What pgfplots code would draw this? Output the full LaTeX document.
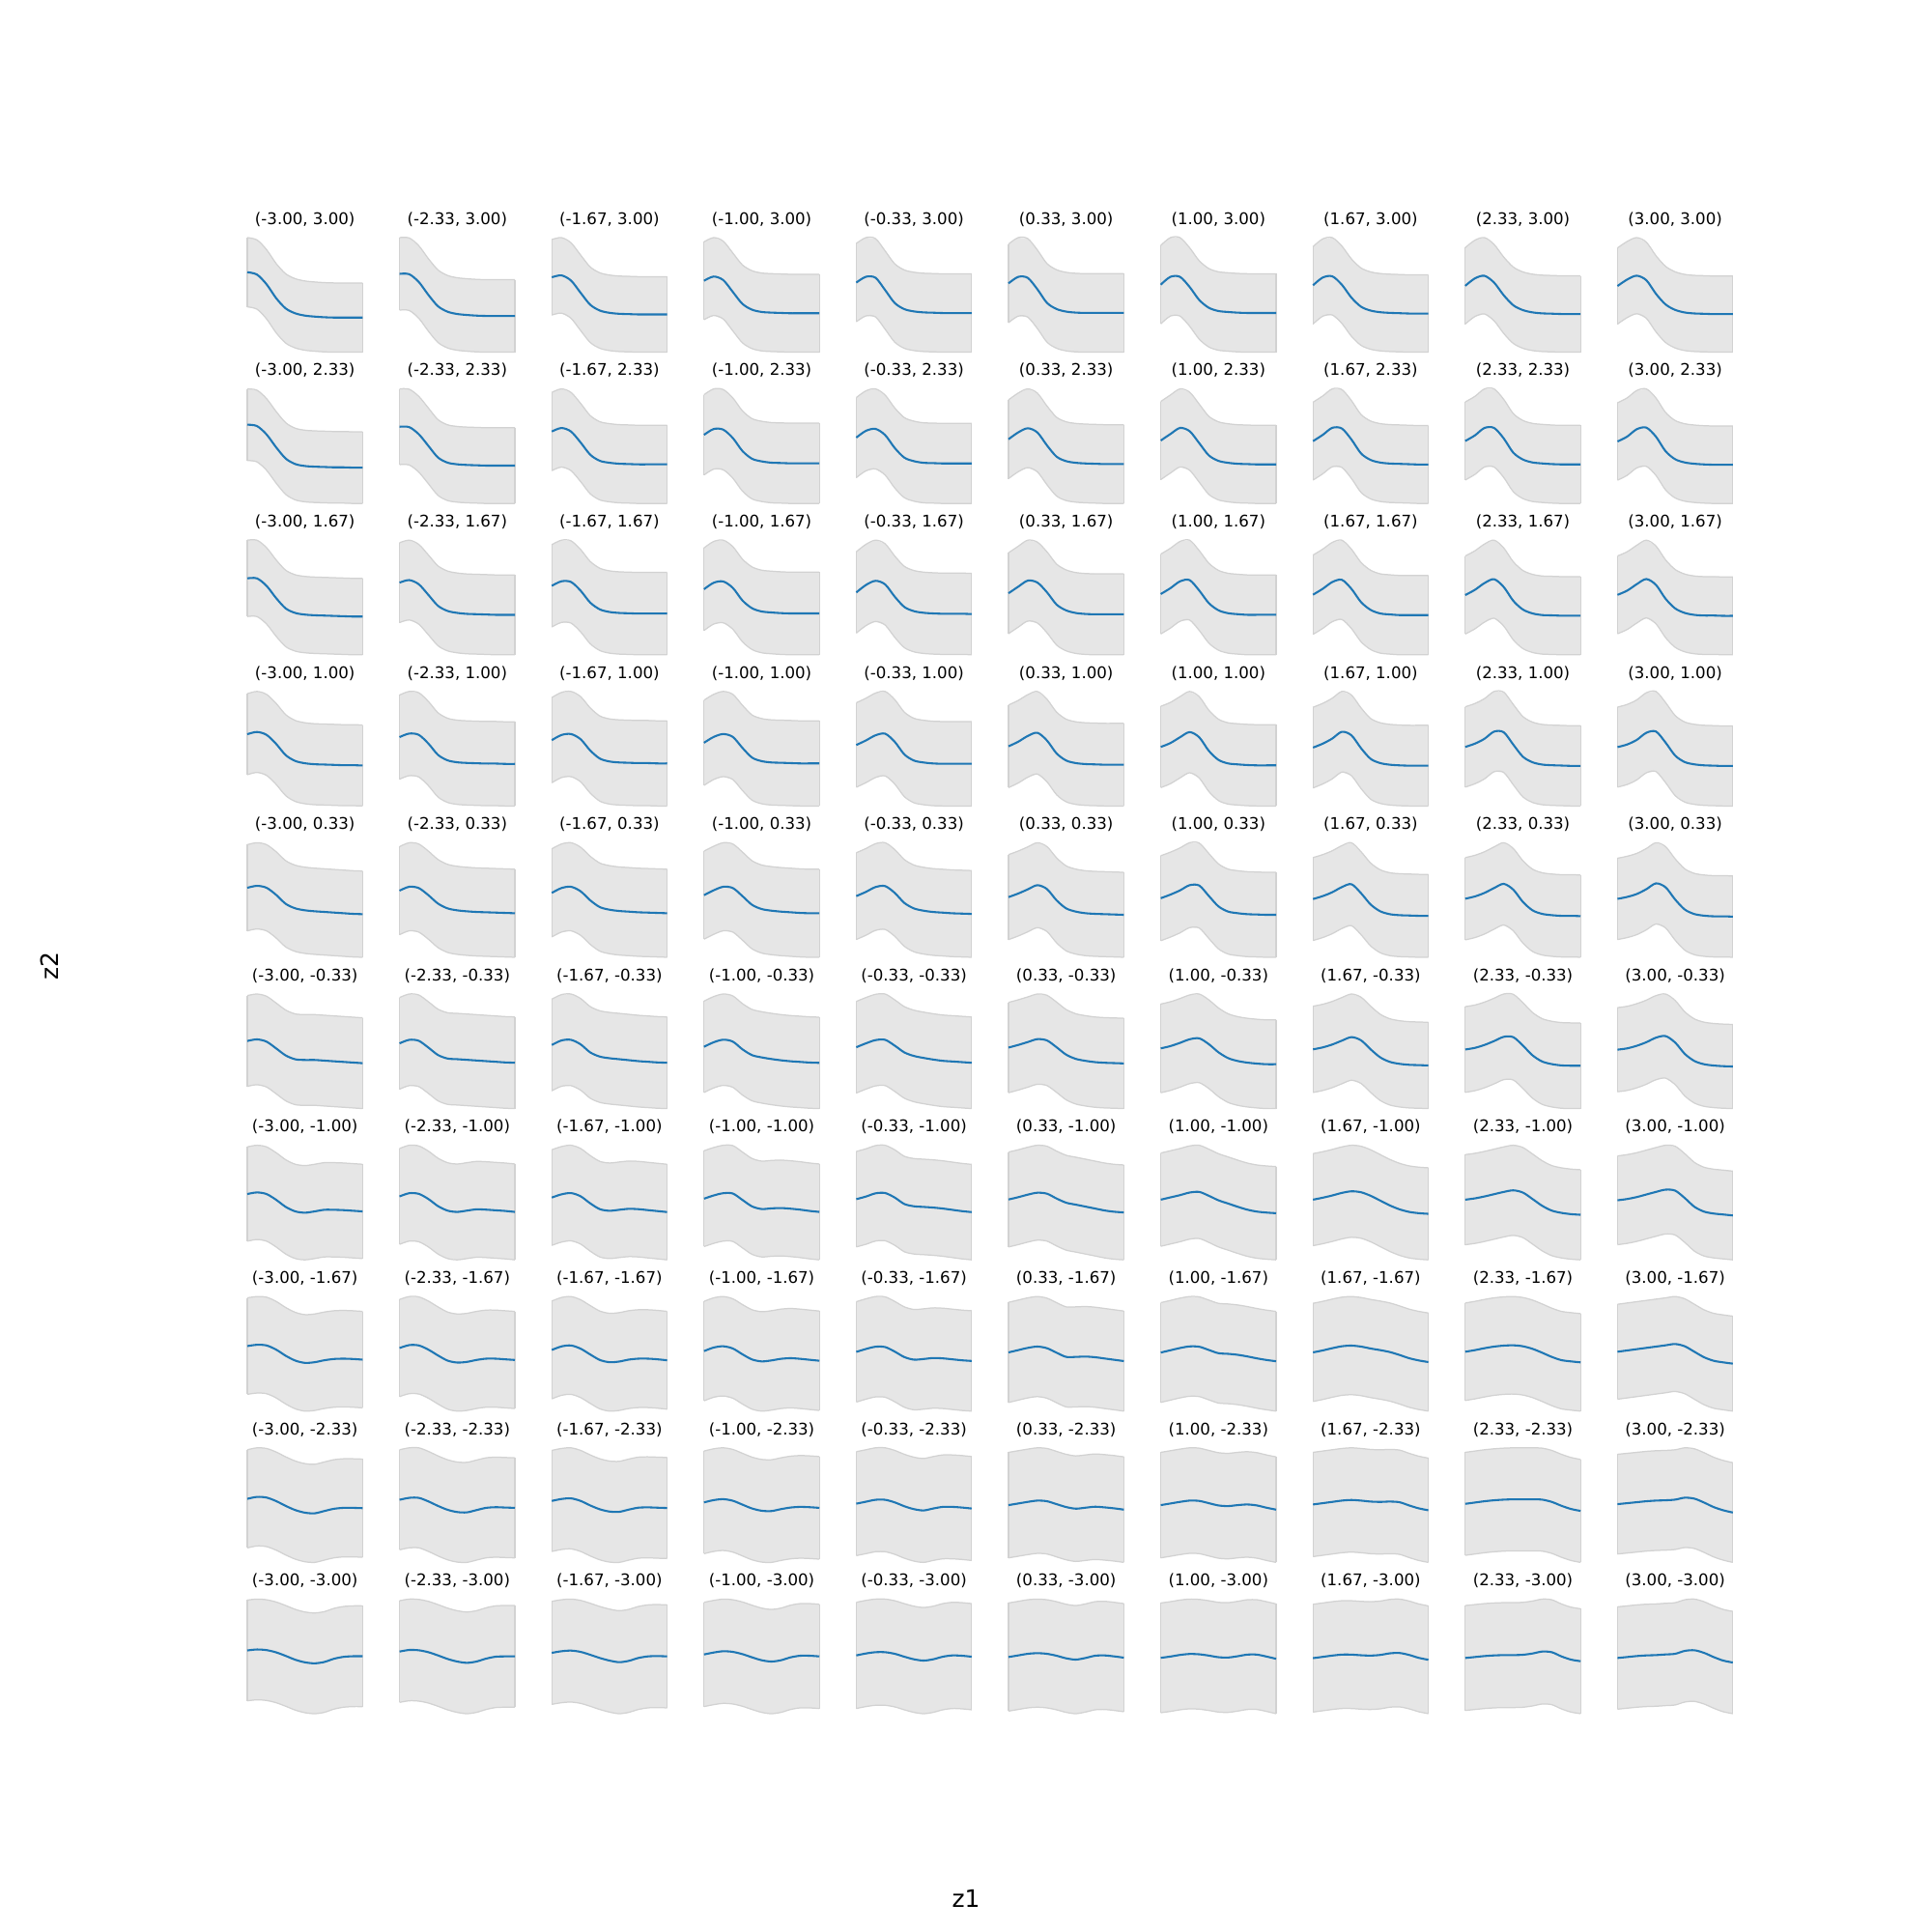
\documentclass[border=0pt]{standalone}
\usepackage{fontspec}
\setmainfont{DejaVu Sans}
\usepackage{pgfplots}
\pgfplotsset{compat=1.18}
\definecolor{mplblue}{HTML}{1F77B4}
\definecolor{bandfill}{HTML}{E6E6E6}
\definecolor{bandedge}{HTML}{D2D2D2}
\pgfplotsset{panel/.style={anchor=north west, scale only axis, width=1.194in, height=1.186in,
  xmin=0, xmax=12, enlargelimits=false, hide axis, clip=false,
  title style={at={(0.5,1)}, anchor=base, yshift=0.053in, font=\fontsize{12}{14}\selectfont}}}
\newcommand\drawband[1]{\addplot[fill=bandfill, draw=none] coordinates {#1};}
\newcommand\drawedge[1]{\addplot[bandedge, line width=0.9pt, smooth] coordinates {#1};}
\newcommand\drawcurve[1]{\addplot[mplblue, line width=1.5pt, smooth] coordinates {#1};}
% #1 column, #2 row, #3 title, #4 half width of the band, #5 mean values (13, at x = 0..12, read downward)
\newcommand{\panel}[5]{%
\gdef\pcurve{}\gdef\pup{}\gdef\plow{}%
\foreach \v [count=\i from 0] in {#5} {%
  \pgfmathsetmacro\vm{-\v}\pgfmathsetmacro\vu{-\v+#4}\pgfmathsetmacro\vl{-\v-#4}%
  \xdef\pcurve{\pcurve (\i,\vm)}\xdef\pup{\pup (\i,\vu)}\xdef\plow{(\i,\vl)\plow}%
  \ifnum\i=0 \xdef\uFirst{\vu}\xdef\lFirst{\vl}\fi
  \ifnum\i=12 \xdef\uLast{\vu}\xdef\lLast{\vl}\fi}%
\xdef\pfill{\pup\plow}%
\xdef\pleft{(0,\uFirst)(0,\lFirst)}%
\xdef\pright{(12,\uLast)(12,\lLast)}%
\begin{axis}[panel, at={(2.56in+#1*1.576in,17.54in-#2*1.566in)}, title={#3}]
\expandafter\drawband\expandafter{\pfill}
\expandafter\drawedge\expandafter{\pup}
\expandafter\drawedge\expandafter{\plow}
\expandafter\drawedge\expandafter{\pleft}
\expandafter\drawedge\expandafter{\pright}
\expandafter\drawcurve\expandafter{\pcurve}
\end{axis}}
\begin{document}
\begin{tikzpicture}
\path[use as bounding box] (0,0) rectangle (20in,20in);
% row z2 = 3.00
\panel{0}{0}{(-3.00, 3.00)}{107}{125,132,162,205,237,252,259,262,264,265,265,265,265}
\panel{1}{0}{(-2.33, 3.00)}{112}{130,131,155,195,230,247,254,257,259,260,260,260,260}
\panel{2}{0}{(-1.67, 3.00)}{117}{140,134,150,188,225,243,250,253,254,255,255,255,255}
\panel{3}{0}{(-1.00, 3.00)}{121}{150,137,148,185,222,240,247,249,250,251,251,251,251}
\panel{4}{0}{(-0.33, 3.00)}{121}{157,139,142,180,220,239,246,249,250,251,251,251,251}
\panel{5}{0}{(0.33, 3.00)}{121}{160,140,143,178,220,239,247,250,251,251,251,251,251}
\panel{6}{0}{(1.00, 3.00)}{120.5}{165,141,141,172,212,236,246,249,251,252,252,252,252}
\panel{7}{0}{(1.67, 3.00)}{119.5}{167,143,139,165,205,233,245,250,252,253,254,254,254}
\panel{8}{0}{(2.33, 3.00)}{118}{168,145,137,158,197,228,243,250,253,254,255,255,255}
\panel{9}{0}{(3.00, 3.00)}{118}{168,148,136,150,192,225,242,250,253,254,255,255,255}
% row z2 = 2.33
\panel{0}{1}{(-3.00, 2.33)}{111}{598,602,628,668,703,720,726,728,729,730,730,731,731}
\panel{1}{1}{(-2.33, 2.33)}{117}{605,606,628,664,700,716,721,723,724,725,725,725,725}
\panel{2}{1}{(-1.67, 2.33)}{121.5}{618,607,618,652,690,709,715,718,719,720,720,720,720}
\panel{3}{1}{(-1.00, 2.33)}{124}{630,612,614,640,680,704,712,716,717,718,718,718,718}
\panel{4}{1}{(-0.33, 2.33)}{124}{638,617,611,630,670,700,711,716,717,718,718,718,718}
\panel{5}{1}{(0.33, 2.33)}{122}{643,622,609,622,662,697,711,716,718,719,720,720,720}
\panel{6}{1}{(1.00, 2.33)}{121}{647,627,608,618,655,693,710,716,719,720,721,721,721}
\panel{7}{1}{(1.67, 2.33)}{120}{650,631,609,611,645,688,708,716,719,720,721,722,722}
\panel{8}{1}{(2.33, 2.33)}{120}{650,633,610,610,642,686,707,716,719,721,722,722,722}
\panel{9}{1}{(3.00, 2.33)}{120}{650,635,612,607,635,680,705,715,719,721,722,722,722}
% row z2 = 1.67
\panel{0}{2}{(-3.00, 1.67)}{118}{137,137,160,198,230,244,249,251,252,253,254,255,255}
\panel{1}{2}{(-2.33, 1.67)}{124}{150,142,155,188,222,238,244,247,248,249,250,250,250}
\panel{2}{2}{(-1.67, 1.67)}{127.5}{160,146,148,175,212,233,241,244,245,246,246,246,246}
\panel{3}{2}{(-1.00, 1.67)}{128}{170,150,146,166,205,229,239,242,244,245,245,245,245}
\panel{4}{2}{(-0.33, 1.67)}{126}{180,157,144,155,193,225,238,243,245,246,246,246,247}
\panel{5}{2}{(0.33, 1.67)}{125}{183,163,144,150,180,218,236,244,247,248,248,248,248}
\panel{6}{2}{(1.00, 1.67)}{123}{186,168,147,143,175,214,236,245,248,250,250,250,250}
\panel{7}{2}{(1.67, 1.67)}{122.5}{188,170,149,142,170,211,235,246,249,251,251,251,251}
\panel{8}{2}{(2.33, 1.67)}{121}{188,172,151,139,163,206,233,245,250,251,252,252,252}
\panel{9}{2}{(3.00, 1.67)}{120.5}{188,175,155,139,157,200,230,244,250,252,252,253,253}
% row z2 = 1.00
\panel{0}{3}{(-3.00, 1.00)}{125.5}{620,613,622,650,685,703,710,713,714,715,716,716,717}
\panel{1}{3}{(-2.33, 1.00)}{130.5}{630,619,623,650,685,702,708,710,711,712,712,713,713}
\panel{2}{3}{(-1.67, 1.00)}{132}{640,624,621,637,672,697,706,709,710,711,711,712,712}
\panel{3}{3}{(-1.00, 1.00)}{132}{648,630,621,630,664,694,705,709,710,711,712,712,712}
\panel{4}{3}{(-0.33, 1.00)}{130.5}{655,641,625,620,645,684,703,709,712,713,713,713,713}
\panel{5}{3}{(0.33, 1.00)}{128}{658,644,626,616,640,680,702,710,713,714,715,715,715}
\panel{6}{3}{(1.00, 1.00)}{126}{660,648,630,614,630,672,700,711,714,716,717,717,717}
\panel{7}{3}{(1.67, 1.00)}{125}{662,650,634,613,624,664,697,710,715,717,718,718,718}
\panel{8}{3}{(2.33, 1.00)}{123}{662,652,637,615,617,655,692,709,716,718,719,720,720}
\panel{9}{3}{(3.00, 1.00)}{123}{662,654,640,618,614,648,688,708,715,718,719,720,720}
% row z2 = 0.33
\panel{0}{4}{(-3.00, 0.33)}{134}{158,152,158,180,208,222,228,231,233,235,237,239,240}
\panel{1}{4}{(-2.33, 0.33)}{136.5}{168,156,160,182,208,223,229,232,234,235,236,237,238}
\panel{2}{4}{(-1.67, 0.33)}{136.5}{175,160,156,170,198,219,227,231,233,235,236,237,238}
\panel{3}{4}{(-1.00, 0.33)}{136.5}{182,167,156,160,185,212,225,230,233,235,237,238,238}
\panel{4}{4}{(-0.33, 0.33)}{134}{185,172,157,154,175,206,223,230,234,236,238,239,240}
\panel{5}{4}{(0.33, 0.33)}{132}{187,176,163,150,162,197,222,232,237,239,240,241,242}
\panel{6}{4}{(1.00, 0.33)}{130.5}{192,181,168,152,153,185,217,233,238,241,242,243,243}
\panel{7}{4}{(1.67, 0.33)}{128.5}{193,184,172,156,147,175,210,231,240,243,244,245,245}
\panel{8}{4}{(2.33, 0.33)}{127.5}{193,186,175,160,147,165,203,229,240,244,246,246,247}
\panel{9}{4}{(3.00, 0.33)}{126}{193,187,178,163,145,157,195,226,240,245,247,247,248}
% row z2 = -0.33
\panel{0}{5}{(-3.00, -0.33)}{141}{635,630,637,658,680,692,694,694,696,698,700,702,704}
\panel{1}{5}{(-2.33, -0.33)}{142}{642,631,634,655,678,689,691,693,695,697,699,701,702}
\panel{2}{5}{(-1.67, -0.33)}{142}{647,633,631,645,670,683,688,691,694,697,699,701,702}
\panel{3}{5}{(-1.00, -0.33)}{142}{652,638,630,636,660,678,685,690,694,697,699,701,702}
\panel{4}{5}{(-0.33, -0.33)}{141.5}{655,643,633,632,650,671,682,688,693,697,699,701,703}
\panel{5}{5}{(0.33, -0.33)}{139.5}{656,648,639,630,634,655,678,691,697,701,703,704,705}
\panel{6}{5}{(1.00, -0.33)}{137}{658,651,641,630,627,645,670,688,697,702,705,707,707}
\panel{7}{5}{(1.67, -0.33)}{134}{660,654,645,633,622,632,660,685,699,705,708,709,710}
\panel{8}{5}{(2.33, -0.33)}{132}{662,657,648,636,623,624,650,680,699,707,711,712,712}
\panel{9}{5}{(3.00, -0.33)}{130}{662,658,650,639,625,620,640,675,697,707,711,713,714}
% row z2 = -1.00
\panel{0}{6}{(-3.00, -1.00)}{146.5}{170,165,170,188,210,224,228,224,219,219,220,222,224}
\panel{1}{6}{(-2.33, -1.00)}{148.5}{178,168,170,186,208,222,226,222,218,219,221,223,226}
\panel{2}{6}{(-1.67, -1.00)}{148.5}{182,172,168,178,200,218,223,220,217,218,221,224,227}
\panel{3}{6}{(-1.00, -1.00)}{148.5}{186,176,169,170,190,210,218,216,215,217,220,224,227}
\panel{4}{6}{(-0.33, -1.00)}{147.5}{188,180,170,169,183,203,210,212,214,217,221,225,228}
\panel{5}{6}{(0.33, -1.00)}{147}{188,181,173,167,170,185,198,204,210,216,222,226,228}
\panel{6}{6}{(1.00, -1.00)}{144.5}{188,181,174,166,164,176,190,200,210,219,225,228,230}
\panel{7}{6}{(1.67, -1.00)}{143}{188,182,175,167,162,165,176,191,206,218,226,230,232}
\panel{8}{6}{(2.33, -1.00)}{140}{188,184,178,171,164,159,166,186,207,222,229,233,235}
\panel{9}{6}{(3.00, -1.00)}{137.5}{190,186,180,172,164,157,160,183,210,225,231,234,237}
% row z2 = -1.67
\panel{0}{7}{(-3.00, -1.67)}{149.5}{643,639,641,654,673,688,695,693,687,683,682,683,685}
\panel{1}{7}{(-2.33, -1.67)}{150.5}{648,639,640,653,671,687,693,691,685,681,681,683,685}
\panel{2}{7}{(-1.67, -1.67)}{152}{654,643,640,650,668,685,692,690,684,681,681,683,686}
\panel{3}{7}{(-1.00, -1.67)}{154.5}{658,647,643,650,668,684,690,687,682,680,682,685,688}
\panel{4}{7}{(-0.33, -1.67)}{155.5}{662,653,646,647,661,678,686,684,681,682,685,688,690}
\panel{5}{7}{(0.33, -1.67)}{155.5}{663,656,649,645,650,664,677,677,676,678,682,686,690}
\panel{6}{7}{(1.00, -1.67)}{154.5}{663,656,649,644,645,655,665,667,670,675,681,686,690}
\panel{7}{7}{(1.67, -1.67)}{152.5}{662,656,649,643,641,644,650,655,661,670,680,687,692}
\panel{8}{7}{(2.33, -1.67)}{151.5}{660,655,649,644,641,640,643,651,663,676,686,690,693}
\panel{9}{7}{(3.00, -1.67)}{147.5}{660,656,652,648,644,640,636,643,660,677,688,693,697}
% row z2 = -2.33
\panel{0}{8}{(-3.00, -2.33)}{152.5}{178,172,174,185,200,213,221,223,216,209,206,206,207}
\panel{1}{8}{(-2.33, -2.33)}{155}{182,176,176,187,201,213,220,221,214,207,205,206,207}
\panel{2}{8}{(-1.67, -2.33)}{157}{185,179,177,185,199,211,218,219,212,206,205,206,207}
\panel{3}{8}{(-1.00, -2.33)}{159.5}{190,183,180,185,197,209,216,217,211,206,204,205,207}
\panel{4}{8}{(-0.33, -2.33)}{161}{194,188,182,182,190,202,211,215,209,204,204,206,209}
\panel{5}{8}{(0.33, -2.33)}{163.5}{198,193,188,184,186,195,204,209,206,203,205,208,212}
\panel{6}{8}{(1.00, -2.33)}{163.5}{198,193,188,184,185,192,199,201,198,196,199,206,212}
\panel{7}{8}{(1.67, -2.33)}{162}{196,192,188,184,182,184,187,188,187,189,199,208,214}
\panel{8}{8}{(2.33, -2.33)}{160}{194,190,186,183,181,180,180,180,181,188,200,210,216}
\panel{9}{8}{(3.00, -2.33)}{154.5}{196,193,190,187,185,184,182,176,179,191,205,215,222}
% row z2 = -3.00
\panel{0}{9}{(-3.00, -3.00)}{156.5}{650,647,649,656,667,679,687,690,686,676,670,668,668}
\panel{1}{9}{(-2.33, -3.00)}{158}{653,648,649,655,665,676,684,688,684,675,669,668,668}
\panel{2}{9}{(-1.67, -3.00)}{160}{657,652,650,654,663,673,681,686,682,673,668,667,668}
\panel{3}{9}{(-1.00, -3.00)}{162}{662,656,652,654,661,671,680,684,680,671,666,666,668}
\panel{4}{9}{(-0.33, -3.00)}{164.5}{665,659,655,655,660,669,677,681,677,669,665,666,669}
\panel{5}{9}{(0.33, -3.00)}{168}{670,665,660,658,660,666,674,678,673,666,665,668,672}
\panel{6}{9}{(1.00, -3.00)}{170.5}{672,668,663,660,661,665,670,671,667,662,662,668,675}
\panel{7}{9}{(1.67, -3.00)}{167}{673,669,665,662,662,664,665,663,658,657,663,672,678}
\panel{8}{9}{(2.33, -3.00)}{163}{673,670,667,665,664,664,663,659,653,655,668,678,683}
\panel{9}{9}{(3.00, -3.00)}{158.5}{673,670,667,665,664,662,660,651,649,657,670,681,687}
\node[font=\fontsize{18}{22}\selectfont] at (10in,0.35in) {z1};
\node[font=\fontsize{18}{22}\selectfont, rotate=90] at (0.51in,10in) {z2};
\end{tikzpicture}
\end{document}
